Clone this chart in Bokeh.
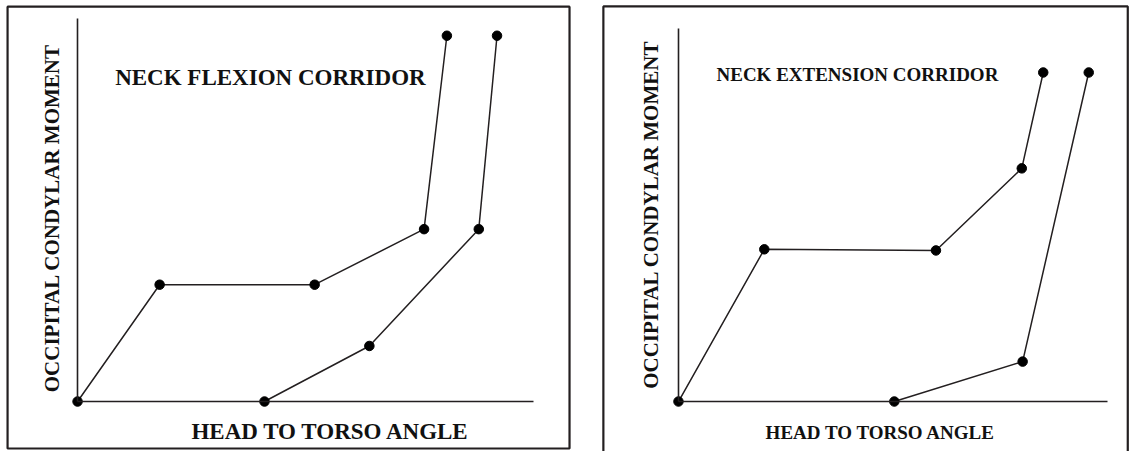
from math import pi

from bokeh.embed import file_html
from bokeh.layouts import row
from bokeh.models import BoxAnnotation, FixedTicker, Label, LinearAxis, Range1d
from bokeh.plotting import figure
from bokeh.resources import INLINE

INK = "#231f20"
FONT = "Liberation Serif"

# Neck flexion corridor (normalised angle / moment units, 0-100)
flex_upper_angle = [0, 18, 52, 76, 81]
flex_upper_moment = [0, 30.5, 30.5, 45, 95.5]
flex_lower_angle = [41, 64, 88, 92]
flex_lower_moment = [0, 14.5, 45, 95.5]

# Neck extension corridor
ext_upper_angle = [0, 20, 60, 80, 85]
ext_upper_moment = [0, 40.8, 40.5, 62.5, 88.2]
ext_lower_angle = [50.3, 80.2, 95.6]
ext_lower_moment = [0, 10.7, 88.2]

x_title = "HEAD TO TORSO ANGLE"
y_title = "OCCIPITAL CONDYLAR MOMENT"
flex_title = "NECK FLEXION CORRIDOR"
ext_title = "NECK EXTENSION CORRIDOR"


def bare_axis():
    return LinearAxis(
        fixed_location=0,
        bounds=(0, 100),
        ticker=FixedTicker(ticks=[]),
        axis_line_color=INK,
        axis_line_width=1.6,
        major_tick_line_color=None,
        minor_tick_line_color=None,
        major_label_text_color=None,
    )


def panel(width, xr, yr):
    p = figure(
        width=width,
        height=451,
        x_range=Range1d(*xr),
        y_range=Range1d(*yr),
        x_axis_type=None,
        y_axis_type=None,
        output_backend="svg",
        toolbar_location=None,
        min_border=0,
        outline_line_color=None,
        background_fill_color="white",
        border_fill_color="white",
    )
    p.add_layout(bare_axis(), "left")
    p.add_layout(bare_axis(), "below")
    return p


def curve(p, xs, ys):
    p.line(xs, ys, line_color=INK, line_width=1.5)
    p.scatter(xs, ys, size=9.5, fill_color="black", line_color="black")


def text(p, x, y, s, size, angle=0):
    p.add_layout(
        Label(
            x=x,
            y=y,
            text=s,
            angle=angle,
            text_align="center",
            text_baseline="middle",
            text_font=FONT,
            text_font_style="bold",
            text_font_size=size,
            text_color="#111111",
        )
    )


# ---- flexion panel ----
left = panel(590, (-16.9, 112.5), (-13.05, 104.7))
left.add_layout(
    BoxAnnotation(
        left=-15.35, right=107.9, bottom=-12.27, top=103.1,
        fill_alpha=0, line_color=INK, line_alpha=1.0, line_width=2.2,
    )
)
curve(left, flex_upper_angle, flex_upper_moment)
curve(left, flex_lower_angle, flex_lower_moment)
text(left, 42.3, 84.6, flex_title, "23px")
text(left, 55.5, -7.8, x_title, "23px")
text(left, -5.6, 47.9, y_title, "21px", angle=pi / 2)

# ---- extension panel ----
right = panel(545, (-20.5, 106.5), (-13.4, 107.5))
right.line(
    [-17.5, -17.5, 104.7, 104.7], [-14, 105.9, 105.9, -14],
    line_color=INK, line_width=2.2,
)
curve(right, ext_upper_angle, ext_upper_moment)
curve(right, ext_lower_angle, ext_lower_moment)
text(right, 41.7, 87.7, ext_title, "19px")
text(right, 47.1, -8.3, x_title, "19px")
text(right, -6.5, 50.1, y_title, "21px", angle=pi / 2)

layout = row(left, right, spacing=0)
open("out.html", "w").write(file_html(layout, INLINE))
